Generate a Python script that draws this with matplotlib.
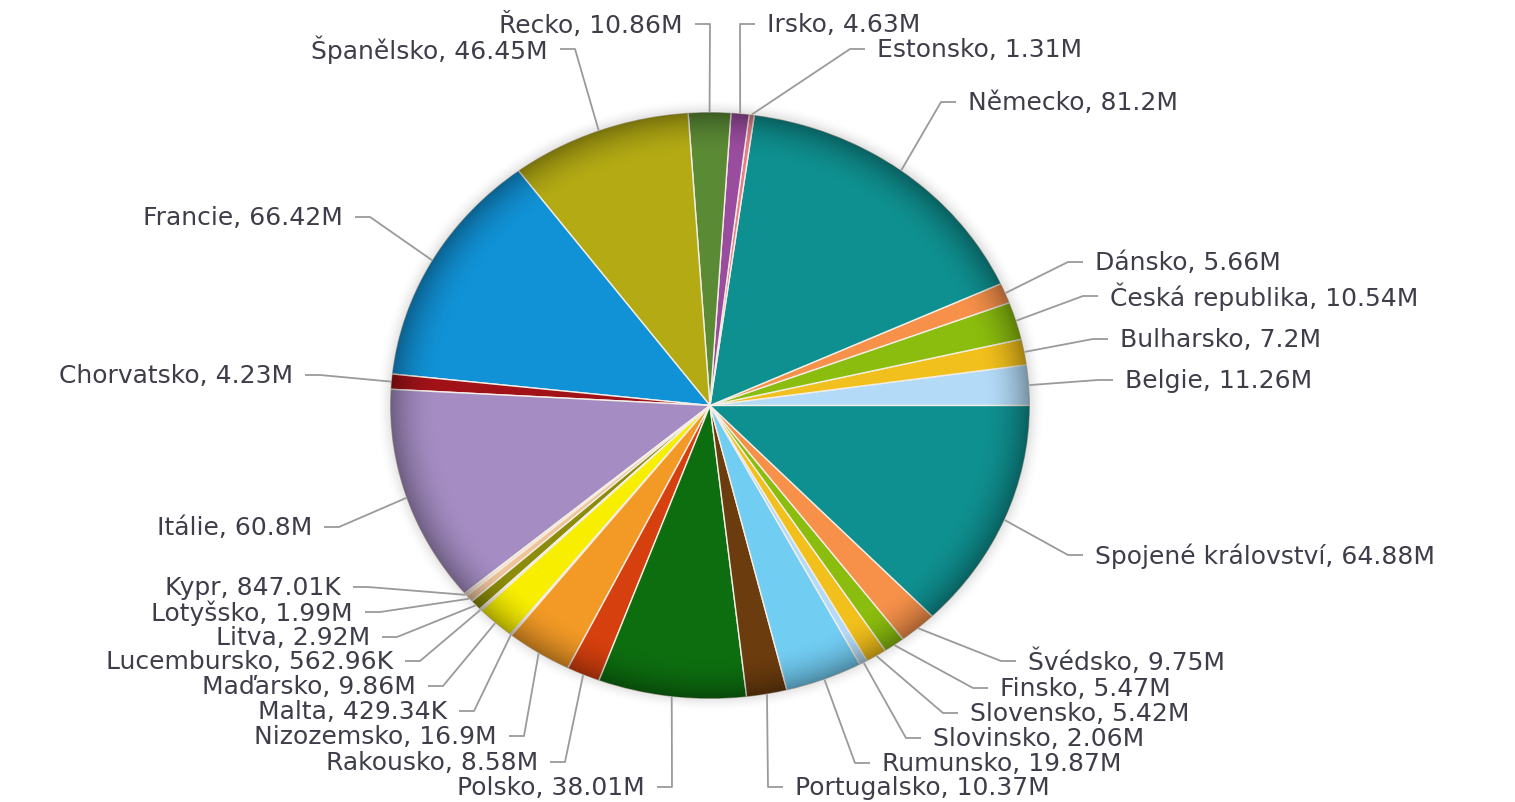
import numpy as np
import matplotlib
matplotlib.use("Agg")
import matplotlib.pyplot as plt
from matplotlib.patches import Ellipse

# ---------------- data ----------------
countries = ["Belgie", "Bulharsko", "Česká republika", "Dánsko", "Německo",
             "Estonsko", "Irsko", "Řecko", "Španělsko", "Francie",
             "Chorvatsko", "Itálie", "Kypr", "Lotyšsko", "Litva",
             "Lucembursko", "Maďarsko", "Malta", "Nizozemsko", "Rakousko",
             "Polsko", "Portugalsko", "Rumunsko", "Slovinsko", "Slovensko",
             "Finsko", "Švédsko", "Spojené království"]
# population in thousands
population_k = [11260, 7200, 10540, 5660, 81200,
                1310, 4630, 10860, 46450, 66420,
                4230, 60800, 847.01, 1990, 2920,
                562.96, 9860, 429.34, 16900, 8580,
                38010, 10370, 19870, 2060, 5420,
                5470, 9750, 64880]

# ---------------- styles ----------------
colors = ["#b3dbf7", "#f2c01c", "#8bbd0e", "#f7914a", "#0f9090",
          "#e8808a", "#9a4c9e", "#5b8a35", "#b4ab14", "#1192d6",
          "#a01218", "#a58dc3", "#f6e0c8", "#f0c49a", "#8c8c0a",
          "#ece8c8", "#f8ef00", "#dcdcdc", "#f39a26", "#d6400e",
          "#0d6e10", "#6b3c0e", "#72cdf3", "#b3dbf7", "#f2c01c",
          "#8bbd0e", "#f7914a", "#0f9090"]

# label anchor positions in pixels (x, y from top), side
label_layout = {
    "Belgie": (1125, 381, "r"), "Bulharsko": (1120, 340, "r"),
    "Česká republika": (1110, 297, "r"), "Dánsko": (1095, 263, "r"),
    "Německo": (968, 103, "r"), "Estonsko": (877, 50, "r"),
    "Irsko": (767, 25, "r"), "Řecko": (683, 25, "l"),
    "Španělsko": (548, 50, "l"), "Francie": (343, 218, "l"),
    "Chorvatsko": (293, 376, "l"), "Itálie": (312, 528, "l"),
    "Kypr": (341, 588, "l"), "Lotyšsko": (353, 613, "l"),
    "Litva": (370, 638, "l"), "Lucembursko": (393, 662, "l"),
    "Maďarsko": (416, 687, "l"), "Malta": (447, 712, "l"),
    "Nizozemsko": (497, 737, "l"), "Rakousko": (538, 763, "l"),
    "Polsko": (645, 788, "l"), "Portugalsko": (795, 788, "r"),
    "Rumunsko": (882, 764, "r"), "Slovinsko": (933, 739, "r"),
    "Slovensko": (970, 714, "r"), "Finsko": (1000, 689, "r"),
    "Švédsko": (1028, 662, "r"), "Spojené království": (1095, 556, "r"),
}

W, H = 1515, 803
CX, CY, RX, RY = 710, 406.5, 320, 293.5


def px(x, y):
    return ((x - CX) / RX, (CY - y) / RY)


def fmt(v):
    if v >= 1000:
        return f"{v / 1000:.2f}".rstrip("0").rstrip(".") + "M"
    return f"{v:.2f}".rstrip("0").rstrip(".") + "K"


fig = plt.figure(figsize=(W / 100, H / 100), dpi=100)
fig.patch.set_facecolor("white")
ax = fig.add_axes([0, 0, 1, 1])

wedges, _ = ax.pie(population_k, colors=colors, startangle=0, counterclock=True,
                   radius=1, center=(0, 0),
                   wedgeprops=dict(edgecolor="#f3eee6", linewidth=1.0, zorder=3))
ax.set_aspect("auto")
ax.set_xlim(-CX / RX, (W - CX) / RX)
ax.set_ylim((CY - H) / RY, CY / RY)
ax.axis("off")

# soft drop shadow around the pie
g = np.linspace(-1.12, 1.12, 500)
X, Y = np.meshgrid(g, g)
R = np.sqrt(X ** 2 + Y ** 2)
sh = np.zeros(R.shape + (4,))
sh[..., :3] = 0.35
a = np.clip(1 - (R - 0.98) / 0.07, 0, 1) ** 2 * 0.35
a[R < 0.98] = 0.35
sh[..., 3] = a
ax.imshow(sh, extent=(-1.12, 1.12, -1.12, 1.12), origin="lower",
          aspect="auto", interpolation="bilinear", zorder=1)

# rim darkening (bevel effect)
g2 = np.linspace(-1, 1, 700)
X2, Y2 = np.meshgrid(g2, g2)
R2 = np.sqrt(X2 ** 2 + Y2 ** 2)
rim = np.zeros(R2.shape + (4,))
rim[..., 3] = np.clip((R2 - 0.85) / 0.15, 0, 1) ** 2 * 0.34
im = ax.imshow(rim, extent=(-1, 1, -1, 1), origin="lower", aspect="auto",
               interpolation="bilinear", zorder=4)
clip = Ellipse((0, 0), 2, 2, transform=ax.transData)
im.set_clip_path(clip)

# leader lines and labels
line_col = "#9a9a9a"
text_col = "#3e3e4a"
for w, name, val in zip(wedges, countries, population_k):
    th = np.deg2rad((w.theta1 + w.theta2) / 2)
    p0 = (np.cos(th), np.sin(th))
    tx, ty, side = label_layout[name]
    if side == "r":
        elbow = px(tx - 27, ty)
        tick = px(tx - 12, ty)
        ha = "left"
    else:
        elbow = px(tx + 27, ty)
        tick = px(tx + 12, ty)
        ha = "right"
    ax.plot([p0[0], elbow[0], tick[0]], [p0[1], elbow[1], tick[1]],
            color=line_col, lw=1.3, zorder=5, solid_capstyle="butt")
    ax.text(*px(tx, ty), f"{name}, {fmt(val)}", ha=ha, va="center",
            fontsize=18, color=text_col, family="DejaVu Sans", zorder=6)

fig.savefig("out.png", dpi=100, facecolor="white")
